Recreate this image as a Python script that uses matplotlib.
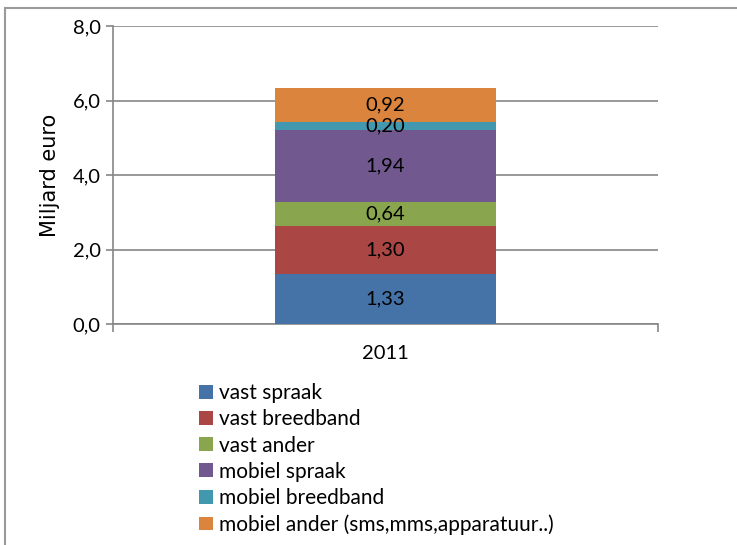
import matplotlib
matplotlib.use('Agg')
import matplotlib.pyplot as plt
from matplotlib.patches import Rectangle

categories = ['2011']
series = ['vast spraak', 'vast breedband', 'vast ander',
          'mobiel spraak', 'mobiel breedband',
          'mobiel ander (sms,mms,apparatuur..)']
values = [1.33, 1.30, 0.64, 1.94, 0.20, 0.92]
colors = ['#4572A7', '#AA4643', '#89A54E', '#71588F', '#4198AF', '#DB843D']
yticks = [0, 2, 4, 6, 8]


def fmt(v, d):
    return f'{v:.{d}f}'.replace('.', ',')


def main():
    plt.rcParams['font.family'] = ['Lato', 'DejaVu Sans']
    fig = plt.figure(figsize=(7.37, 5.45), dpi=100)
    ax = fig.add_axes([113 / 737, 1 - 324 / 545, 545 / 737, 298 / 545])

    bottom = 0
    for name, v, c in zip(series, values, colors):
        ax.bar(0, v, width=0.404, bottom=bottom, color=c, label=name, zorder=3)
        ax.text(0, bottom + v / 2, fmt(v, 2), ha='center', va='center',
                fontsize=14.5, color='black', zorder=4)
        bottom += v

    grid_c = '#868686'
    ax.set_xlim(-0.5, 0.5)
    ax.set_ylim(0, 8)
    ax.set_yticks(yticks)
    ax.set_yticklabels([fmt(t, 1) for t in yticks], fontsize=14.5)
    ax.yaxis.grid(True, color=grid_c, linewidth=1.2, zorder=0)
    ax.set_xticks([-0.5, 0.5])
    ax.set_xticklabels(['', ''])
    ax.set_xticks([0], minor=True)
    ax.set_xticklabels(categories, minor=True, fontsize=14.5)
    ax.tick_params(axis='x', which='minor', length=0, pad=15)
    ax.tick_params(axis='x', which='major', length=6, color=grid_c, width=1.2)
    ax.tick_params(axis='y', length=5, color=grid_c, width=1.2, pad=4)
    for s in ['top', 'right']:
        ax.spines[s].set_visible(False)
    for s in ['left', 'bottom']:
        ax.spines[s].set_color(grid_c)
        ax.spines[s].set_linewidth(1.2)
    ax.set_ylabel('Miljard euro', fontsize=15, family='DejaVu Sans', labelpad=9)

    handles, labels = ax.get_legend_handles_labels()
    fig.legend(handles, labels, loc='upper left',
               bbox_to_anchor=(199 / 737, 1 - 383 / 545), frameon=False,
               fontsize=15, handlelength=0.65, handleheight=0.65,
               handletextpad=0.3, labelspacing=0.3, borderaxespad=0,
               borderpad=0)

    fig.patches.append(Rectangle((5 / 737, -0.1), 1.1, 1.1 - 8 / 545,
                                 transform=fig.transFigure, fill=False,
                                 edgecolor='#9a9a9a', linewidth=1.5))
    fig.savefig('out.png', dpi=100)


if __name__ == '__main__':
    main()
